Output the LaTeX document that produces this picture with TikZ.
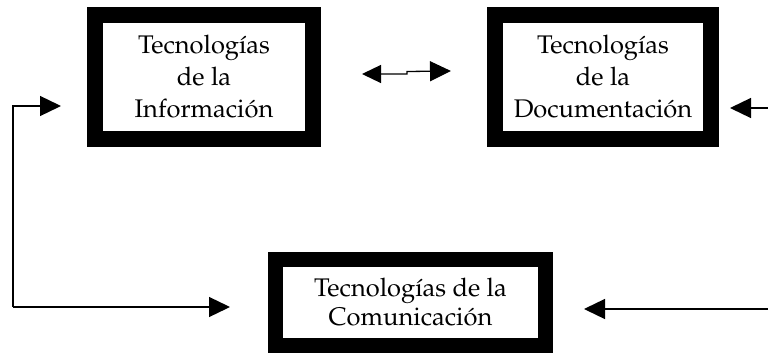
\documentclass[tikz,border=0pt]{standalone}
\usepackage[T1]{fontenc}
\usepackage{mathpazo}
\usetikzlibrary{arrows.meta}

\begin{document}
\begin{tikzpicture}[x=1pt,y=-1pt,
  techbox/.style={draw=black, line width=16pt, inner sep=0pt, align=center,
    font=\fontsize{25.5}{32}\selectfont},
  link/.style={line width=1.3pt, -{Triangle[length=21pt,width=20pt]}},
  twolink/.style={line width=1.3pt, {Triangle[length=19pt,width=18pt]}-{Triangle[length=21pt,width=20pt]}}]
\useasboundingbox (0,0) rectangle (768,353);
\node [techbox, minimum width=218pt, minimum height=124pt] (info) at (204,77)
  {Tecnolog\'{\i}as\\de la\\Informaci\'on};
\node [techbox, minimum width=216pt, minimum height=124pt] (docu) at (603,77)
  {Tecnolog\'{\i}as\\de la\\Documentaci\'on};
\node [techbox, line width=15pt, minimum width=270pt, minimum height=86pt,
  font=\fontsize{25.5}{29}\selectfont] (comu) at (410.5,302.5)
  {Tecnolog\'{\i}as de la\\Comunicaci\'on};
\coordinate (infoin) at (61,106);
\coordinate (comuin) at (230,307);
\coordinate (corner) at (13,307);
\coordinate (pairl) at (362,74);
\coordinate (pairr) at (451,71);
\coordinate (docuin) at (730,108);
\coordinate (docuout) at (768,108);
\coordinate (comuright) at (584,309);
\coordinate (comuout) at (768,309);
\draw [link] (corner) -- (comuin);
\draw [link] (corner) |- (infoin);
\draw [twolink] (pairl) -- (407,74) -- (407,71.5) -- (pairr);
\draw [link] (docuout) -- (docuin);
\draw [link] (comuout) -- (comuright);
\end{tikzpicture}
\end{document}
